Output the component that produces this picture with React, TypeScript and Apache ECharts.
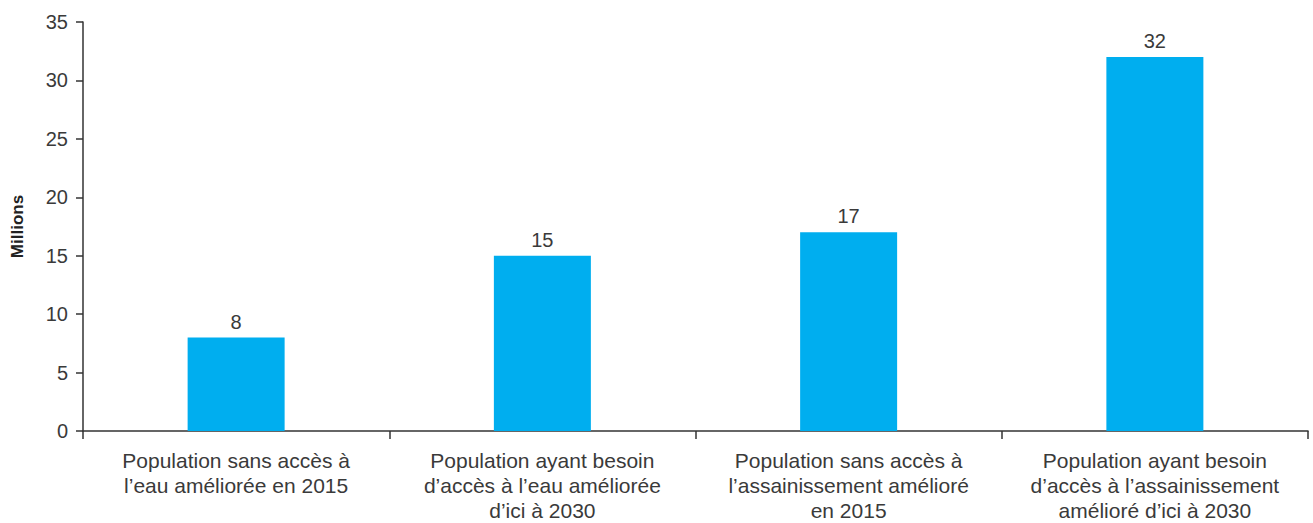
import React, { useEffect, useRef } from "react";
import * as echarts from "echarts";

const categories = [
  "Population sans accès à\nl’eau améliorée en 2015",
  "Population ayant besoin\nd’accès à l’eau améliorée\nd’ici à 2030",
  "Population sans accès à\nl’assainissement amélioré\nen 2015",
  "Population ayant besoin\nd’accès à l’assainissement\namélioré d’ici à 2030",
];
const values = [8, 15, 17, 32];
const yTicks = { min: 0, max: 35, interval: 5 };
const yAxisName = "Millions";

export default function App() {
  const ref = useRef<HTMLDivElement>(null);
  useEffect(() => {
    if (!ref.current) return;
    const chart = echarts.init(ref.current, undefined, { renderer: "svg" });
    const font = "'Liberation Sans', Arial, Helvetica, sans-serif";
    chart.setOption({
      animation: false,
      textStyle: { fontFamily: font },
      grid: { left: 83, right: 5, top: 22, bottom: 89, containLabel: false },
      xAxis: {
        type: "category",
        data: categories,
        axisLine: { lineStyle: { color: "#333", width: 1.5 } },
        axisTick: { show: true, length: 8, lineStyle: { color: "#333", width: 1.5 } },
        axisLabel: {
          color: "#3a3a3a",
          fontSize: 21,
          lineHeight: 25,
          margin: 17,
          interval: 0,
          fontFamily: font,
        },
      },
      yAxis: {
        type: "value",
        min: yTicks.min,
        max: yTicks.max,
        interval: yTicks.interval,
        name: yAxisName,
        nameLocation: "middle",
        nameGap: 57,
        nameRotate: 90,
        nameTextStyle: { color: "#222", fontSize: 17, fontWeight: "bold", fontFamily: font },
        splitLine: { show: false },
        axisLine: { show: true, lineStyle: { color: "#333", width: 1.5 } },
        axisTick: { show: true, length: 7, lineStyle: { color: "#333", width: 1.5 } },
        axisLabel: { color: "#3a3a3a", fontSize: 20, margin: 15, fontFamily: font },
      },
      series: [
        {
          type: "bar",
          data: values,
          barWidth: 97,
          itemStyle: { color: "#00AEEF" },
          label: {
            show: true,
            position: "top",
            color: "#3a3a3a",
            fontSize: 20,
            distance: 6,
            fontFamily: font,
          },
        },
      ],
    });
    return () => chart.dispose();
  }, []);
  return <div ref={ref} style={{ width: 1313, height: 523, position: "absolute", left: 0, top: 0 }} />;
}
